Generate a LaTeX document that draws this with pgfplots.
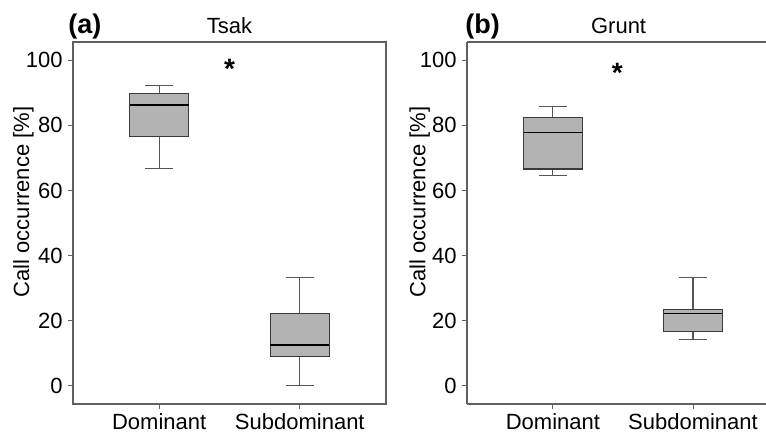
\documentclass[border=0pt]{standalone}
\usepackage{fontspec}
\setmainfont{Liberation Sans}
\usepackage{pgfplots}
\pgfplotsset{compat=1.18}
\usepgfplotslibrary{statistics}
\definecolor{boxfill}{HTML}{B3B3B3}
\definecolor{boxedge}{HTML}{3A3A3A}
\definecolor{whisk}{HTML}{555555}
\definecolor{frame}{HTML}{606060}
\pgfplotsset{
  panel/.style={
    scale only axis,
    height=181pt,
    ymin=-5.6, ymax=105.6,
    xmin=0.387,
    ytick={0,20,40,60,80,100},
    xtick={1,2},
    xticklabels={Dominant,Subdominant},
    xtick pos=bottom, ytick pos=left,
    tick align=outside,
    major tick length=2.5pt,
    tick style={frame, line width=0.5pt},
    axis line style={frame, line width=0.55pt},
    every tick label/.style={font=\fontsize{11}{13}\selectfont},
    /pgf/number format/assume math mode=true,
    yticklabel style={inner sep=1pt, xshift=-1.5pt},
    xticklabel style={inner sep=1pt, yshift=-1pt},
    ylabel={Call occurrence [\%]},
    every axis y label/.style={at={(axis description cs:-0.158,0.558)}, rotate=90, anchor=center, font=\fontsize{11}{13}\selectfont},
    every axis title/.style={at={(axis description cs:0.5,1)}, anchor=base, yshift=4.5pt, font=\fontsize{11}{13}\selectfont},
    boxplot/draw direction=y,
    boxplot/every box/.style={draw=boxedge, fill=boxfill, line width=0.55pt},
    boxplot/every whisker/.style={draw=whisk, line width=0.55pt},
    boxplot/every median/.style={draw=black, line width=0.85pt},
    boxplot/box extend=0.417,
    boxplot/whisker extend=0.2,
    clip=false,
  }
}
\begin{document}
\begin{tikzpicture}
\path[use as bounding box] (0,0) rectangle (383pt,-217pt);
% Panel (a)
\begin{axis}[panel, at={(36.5pt,-202pt)}, anchor=south west, width=156.5pt, xmax=2.613, title={Tsak}]
\addplot[boxplot/draw direction=y, boxplot prepared={draw position=1, lower whisker=66.7, lower quartile=76.5, median=86.2, upper quartile=89.7, upper whisker=92.3}] coordinates {};
\addplot[boxplot/draw direction=y, boxplot prepared={draw position=2, lower whisker=0, lower quartile=9.1, median=12.5, upper quartile=22.1, upper whisker=33.3}] coordinates {};
\node[font=\fontsize{14}{14}\bfseries\selectfont] at (axis cs:1.5,97.5) {*};
\end{axis}
\node[font=\fontsize{13.5}{15}\bfseries\selectfont, anchor=base west, inner sep=0pt] at (34pt,-16.7pt) {(a)};
% Panel (b)
\begin{axis}[panel, at={(233.5pt,-202pt)}, anchor=south west, width=149.5pt, xmax=2.521,
  axis x line*=box, axis y line*=left, title={Grunt},
  every axis title/.append style={at={(axis description cs:0.507,1)}}]
\addplot[boxplot/draw direction=y, boxplot prepared={draw position=1, lower whisker=64.7, lower quartile=66.6, median=77.8, upper quartile=82.3, upper whisker=85.7}] coordinates {};
\addplot[boxplot/draw direction=y, boxplot prepared={draw position=2, lower whisker=14.3, lower quartile=16.7, median=22.2, upper quartile=23.5, upper whisker=33.3}] coordinates {};
\node[font=\fontsize{14}{14}\bfseries\selectfont] at (axis cs:1.46,96) {*};
\end{axis}
\node[font=\fontsize{13.5}{15}\bfseries\selectfont, anchor=base west, inner sep=0pt] at (232.5pt,-16.7pt) {(b)};
\end{tikzpicture}
\end{document}
